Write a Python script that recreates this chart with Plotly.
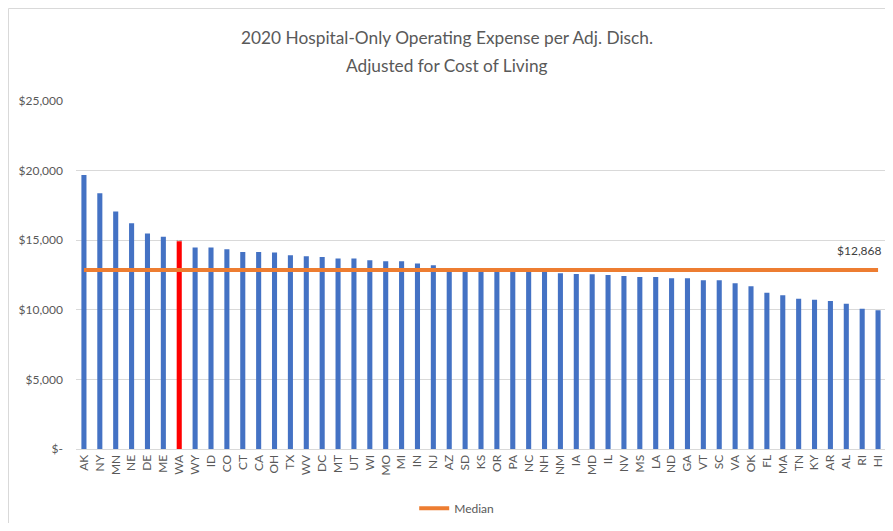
import plotly.graph_objects as go

states = ["AK","NY","MN","NE","DE","ME","WA","WY","ID","CO","CT","CA","OH","TX","WV","DC","MT","UT","WI","MO","MI","IN","NJ",
          "AZ","SD","KS","OR","PA","NC","NH","NM","IA","MD","IL","NV","MS","LA","ND","GA","VT","SC","VA","OK","FL","MA","TN","KY","AR","AL","RI","HI"]
expense = [19690, 18380, 17060, 16220, 15480, 15240, 14929, 14470, 14470, 14350, 14160, 14160, 14110, 13920, 13850, 13800, 13680, 13680,
           13560, 13490, 13490, 13320, 13200,
           12830, 12820, 12820, 12810, 12800, 12800, 12790, 12620, 12570, 12560, 12500, 12430, 12360, 12360, 12260, 12260, 12120, 12120,
           11900, 11690, 11230, 11040, 10800, 10730, 10630, 10440, 10080, 9960]
median_value = 12868
highlight_state = "WA"
ytick_vals = [0, 5000, 10000, 15000, 20000, 25000]
ytick_text = ["$-", "$5,000", "$10,000", "$15,000", "$20,000", "$25,000"]
title_line1 = "2020 Hospital-Only Operating Expense per Adj. Disch."
title_line2 = "Adjusted for Cost of Living"

FONT = "Lato, 'Open Sans', sans-serif"
GRAY = "#595959"

bar_colors = ["#FF0000" if s == highlight_state else "#4472C4" for s in states]
bar_text = [f"${v:,.0f}" if s == highlight_state else "" for s, v in zip(states, expense)]

fig = go.Figure()
fig.add_trace(go.Bar(
    x=states, y=expense, marker=dict(color=bar_colors, line=dict(width=0)),
    text=bar_text, textposition="outside", cliponaxis=False,
    textfont=dict(family=FONT, size=12, color="#404040"),
    showlegend=False, hoverinfo="x+y",
))
fig.add_trace(go.Scatter(
    x=states, y=[median_value] * len(states), mode="lines",
    line=dict(color="#ED7D31", width=4), name="Median",
))
fig.add_annotation(
    x=states[-1], y=median_value, text=f"${median_value:,.0f}", showarrow=False,
    xanchor="right", yanchor="bottom", yshift=10, xshift=6,
    font=dict(family=FONT, size=12, color="#404040"),
)

# page has an 8px body margin on each side, so the figure is sized to avoid scrollbars
W, H = 885, 515
L, R, T, B = 68, 7, 93, 74
pw, ph = W - L - R, H - T - B
fig.add_annotation(
    xref="paper", yref="paper", x=(439 - L) / pw, y=(T + ph - 58) / ph,
    text=title_line2, showarrow=False, xanchor="center", yanchor="middle",
    font=dict(family=FONT, size=17.3, color=GRAY),
)
border_left = (0.5 - L) / pw
border_top = (T + ph - 0.5) / ph
fig.add_shape(type="line", xref="paper", yref="paper",
              x0=border_left, x1=border_left, y0=-(B + 5) / ph, y1=border_top,
              line=dict(color="#D9D9D9", width=1), layer="below")
fig.add_shape(type="line", xref="paper", yref="paper",
              x0=border_left, x1=(W - L) / pw, y0=border_top, y1=border_top,
              line=dict(color="#D9D9D9", width=1), layer="below")

fig.update_layout(
    width=W, height=H,
    margin=dict(l=L, r=R, t=T, b=B, autoexpand=False),
    paper_bgcolor="white", plot_bgcolor="white",
    font=dict(family=FONT, color=GRAY),
    title=dict(text=title_line1,
               x=439 / W, xref="container", xanchor="center", y=1 - 30 / H, yanchor="middle",
               font=dict(family=FONT, size=17.3, color=GRAY)),
    bargap=0.68,
    legend=dict(orientation="h", x=0.47, xanchor="center", y=-0.17, yanchor="middle",
                font=dict(family=FONT, size=12, color=GRAY), itemwidth=30),
    xaxis=dict(tickangle=-90, tickfont=dict(family=FONT, size=12, color=GRAY),
               range=[-0.5, len(states) - 0.5], automargin=False,
               showline=True, linecolor="#D9D9D9", linewidth=1, showgrid=False, ticks=""),
    yaxis=dict(range=[0, 25000], tickvals=ytick_vals, ticktext=ytick_text, automargin=False,
               tickfont=dict(family=FONT, size=12, color=GRAY),
               gridcolor="#D9D9D9", gridwidth=1, zeroline=False, showline=False, ticklabelstandoff=12),
)

fig.write_html("out.html")
